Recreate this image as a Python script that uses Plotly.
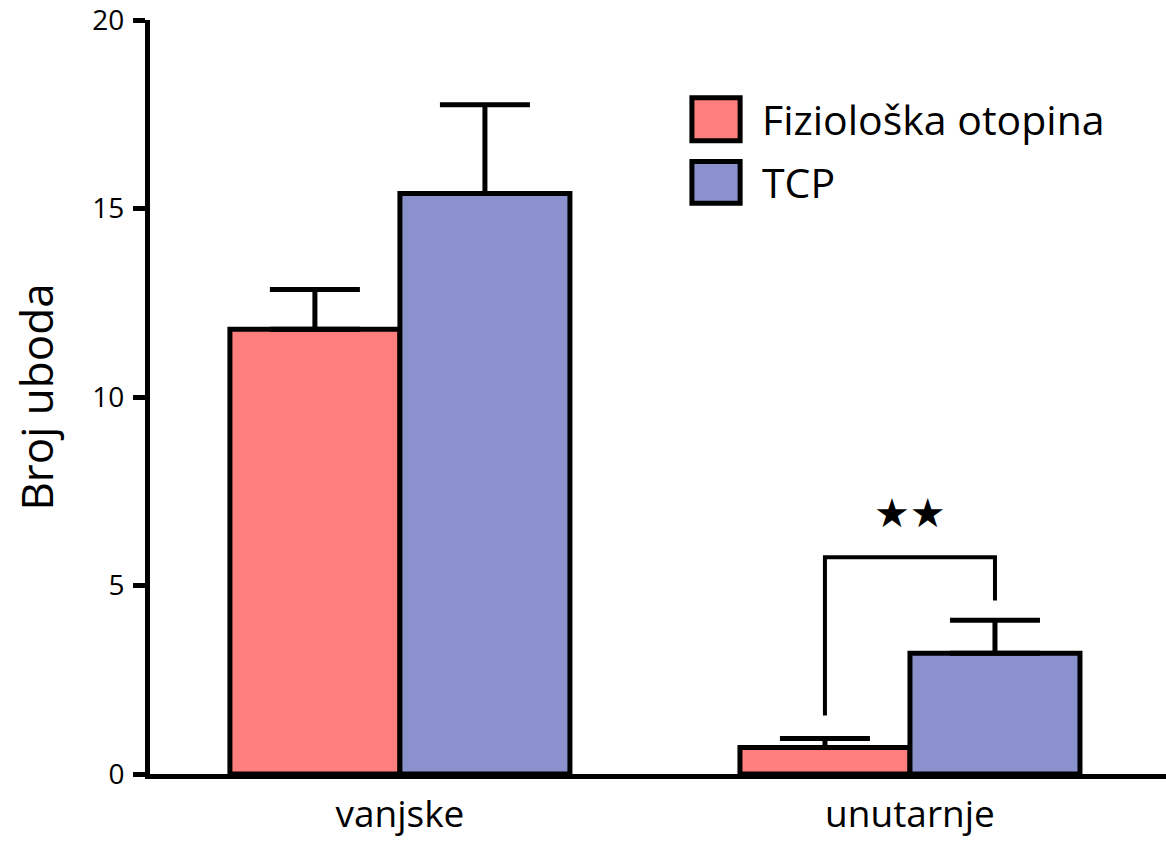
import plotly.graph_objects as go

categories = ["vanjske", "unutarnje"]
cat_pos = [0, 1]
series_names = ["Fiziološka otopina", "TCP"]
saline_mean = [11.8, 0.7]
saline_sem = [1.05, 0.24]
tcp_mean = [15.4, 3.2]
tcp_sem = [2.35, 0.88]
colors = ["#FF7F7F", "#8B91CD"]

bracket_x = [0.8333, 0.8333, 1.1667, 1.1667]
bracket_y = [1.55, 5.75, 5.75, 4.6]
sig_label = "★★"
y_ticks = [0, 5, 10, 15, 20]

FONT = "Open Sans"

fig = go.Figure()
for name, mean, sem, col in [(series_names[0], saline_mean, saline_sem, colors[0]),
                              (series_names[1], tcp_mean, tcp_sem, colors[1])]:
    fig.add_trace(go.Bar(
        x=cat_pos, y=mean, name=name,
        marker=dict(color=col, line=dict(color="black", width=5)),
        error_y=dict(type="data", symmetric=False, array=sem,
                     arrayminus=[0] * len(sem), color="black",
                     thickness=5, width=45),
        showlegend=False,
    ))

# significance bracket
fig.add_trace(go.Scatter(x=bracket_x, y=bracket_y, mode="lines",
                         line=dict(color="black", width=4),
                         showlegend=False, hoverinfo="skip"))
fig.add_annotation(x=(bracket_x[0] + bracket_x[-1]) / 2, y=bracket_y[1],
                   yshift=44, text=sig_label, showarrow=False,
                   font=dict(family="DejaVu Sans", size=40, color="black"))

# custom legend
leg_y = [(17.94, 16.80), (16.25, 15.14)]
for (y1, y0), col, name in zip(leg_y, colors, series_names):
    fig.add_shape(type="rect", xref="x", yref="y", x0=0.5725, x1=0.667,
                  y0=y0, y1=y1, fillcolor=col,
                  line=dict(color="black", width=5))
    fig.add_annotation(xref="x", yref="y", x=0.705, y=(y0 + y1) / 2,
                       text=name, showarrow=False, xanchor="left",
                       font=dict(family=FONT, size=41, color="black"))

fig.update_layout(
    width=1166, height=848,
    margin=dict(l=150, r=0, t=20, b=74),
    plot_bgcolor="white", paper_bgcolor="white",
    barmode="group", bargap=1/3, bargroupgap=0,
    font=dict(family=FONT, color="black"),
)
fig.update_xaxes(range=[-0.49, 1.502], tickvals=cat_pos, ticktext=categories,
                 showline=True, linecolor="black", linewidth=5,
                 showgrid=False, zeroline=False, ticks="",
                 automargin=False,
                 tickfont=dict(size=37, family=FONT), ticklabelstandoff=4)
fig.update_yaxes(range=[0, 20], tickvals=y_ticks,
                 showline=True, linecolor="black", linewidth=5,
                 showgrid=False, zeroline=False, ticks="outside",
                 ticklen=12, tickwidth=5, tickcolor="black",
                 automargin=False,
                 tickfont=dict(size=28, family=FONT),
                 ticklabeloverflow="allow", ticklabelstandoff=3,
                 title=dict(text="Broj uboda", font=dict(size=44, family=FONT),
                            standoff=26))

fig.write_html("out.html", config={"displayModeBar": False},
               post_script="document.body.style.margin='0';")
